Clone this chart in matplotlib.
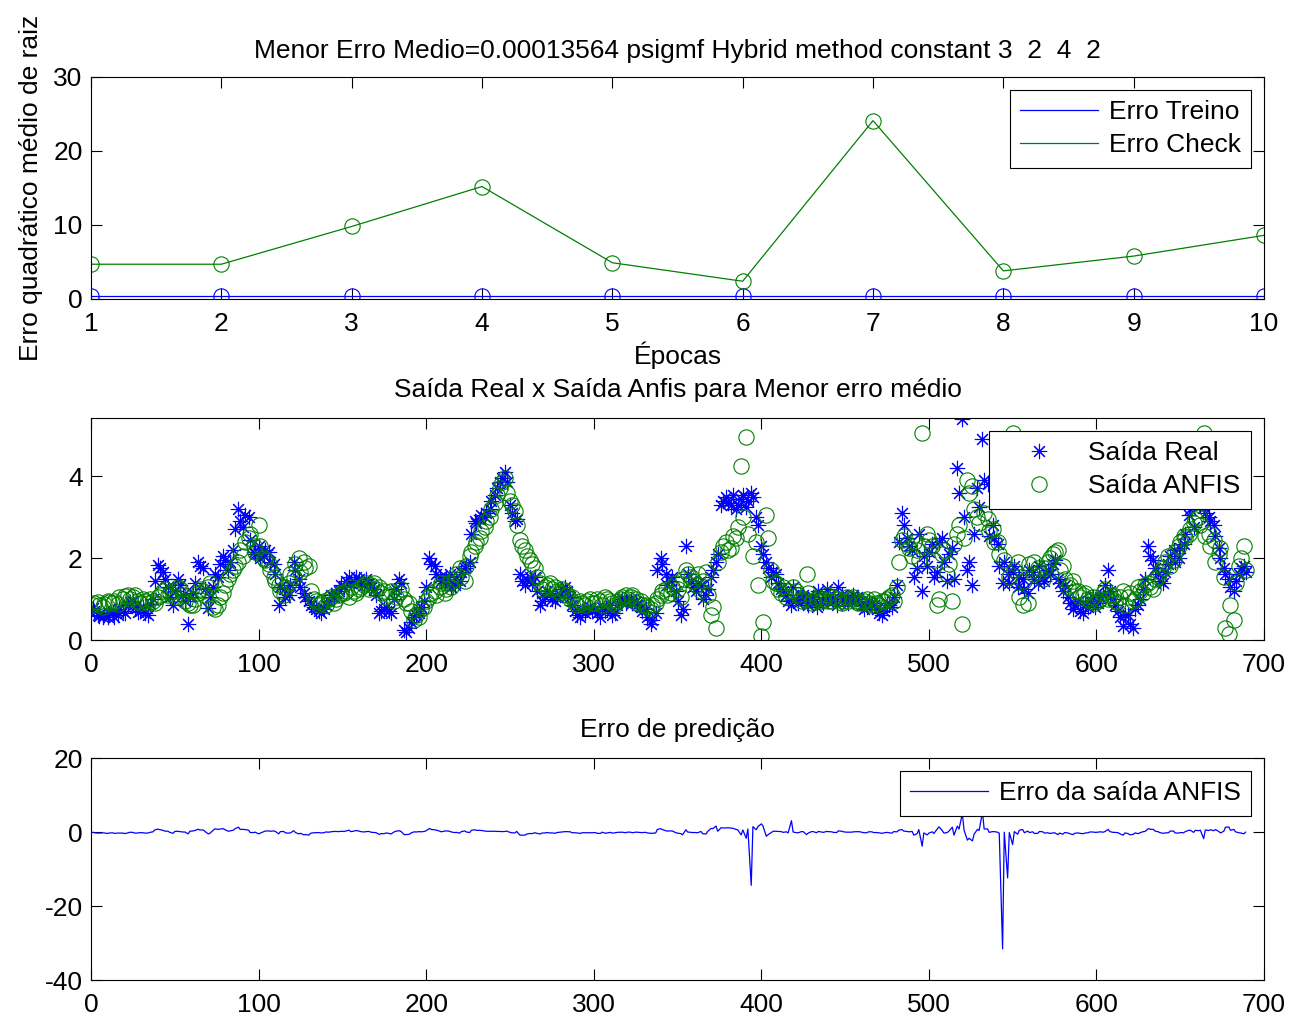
import numpy as np
import matplotlib.pyplot as plt
from matplotlib.lines import Line2D

plt.rcParams['font.family'] = ['Liberation Sans', 'DejaVu Sans']
plt.rcParams['font.size'] = 19
plt.rcParams['axes.unicode_minus'] = False

# ---- treino: erro por época ----
epocas = [1, 2, 3, 4, 5, 6, 7, 8, 9, 10]
erro_treino = [0.40, 0.40, 0.40, 0.40, 0.40, 0.40, 0.40, 0.40, 0.40, 0.40]
erro_check = [4.7, 4.7, 9.8, 15.2, 4.9, 2.4, 24.1, 3.8, 5.8, 8.6]

# ---- saída real e saída do ANFIS ----
# amostras 1, 4, 7, ...
saida_real_1 = [
    0.78, 0.62, 0.56, 0.55, 0.68, 0.60, 0.72, 0.85, 0.95, 0.68,
    0.80, 0.62, 1.00, 1.83, 1.65, 1.30, 0.85, 1.50, 1.10, 0.40,
    1.15, 1.90, 1.75, 0.78, 1.30, 1.55, 2.05, 1.70, 2.20, 3.20,
    2.75, 3.00, 2.15, 2.30, 2.05, 2.15, 1.85, 0.85, 1.25, 1.10,
    1.90, 1.50, 1.15, 0.95, 0.80, 0.70, 0.75, 0.95, 1.05, 1.20,
    1.30, 1.55, 1.45, 1.50, 1.35, 1.40, 1.25, 0.65, 0.75, 0.70,
    1.00, 1.50, 0.25, 0.30, 0.55, 0.65, 0.95, 2.00, 1.80, 1.55,
    1.40, 1.60, 1.35, 1.45, 1.75, 1.90, 2.90, 2.95, 3.00, 3.20,
    3.55, 3.85, 4.10, 3.30, 2.90, 1.60, 1.35, 1.55, 1.55, 0.85,
    1.05, 1.15, 0.95, 1.10, 1.30, 1.05, 0.70, 0.55, 0.65, 0.80,
    0.75, 0.55, 0.70, 0.85, 0.65, 0.95, 0.90, 1.00, 0.95, 0.80,
    0.75, 0.40, 0.65, 2.00, 1.60, 1.45, 1.20, 0.60, 2.30, 1.45,
    1.20, 1.35, 1.10, 1.55, 1.90, 3.30, 3.50, 3.30, 3.20, 3.45,
    3.25, 3.60, 3.00, 2.30, 1.90, 1.55, 1.60, 1.25, 1.10, 0.85,
    1.00, 1.05, 0.90, 1.00, 0.80, 0.95, 1.25, 1.00, 0.85, 1.10,
    1.00, 0.95, 1.05, 0.85, 0.80, 0.90, 0.75, 0.60, 0.90, 0.80,
    1.35, 3.10, 2.50, 2.20, 1.75, 1.20, 1.80, 2.35, 1.65, 2.50,
    1.45, 2.25, 4.20, 5.40, 1.70, 1.35, 3.70, 4.90, 3.80, 2.80,
    2.35, 1.40, 1.60, 1.65, 1.30, 1.50, 1.15, 1.65, 1.40, 1.55,
    1.70, 1.85, 1.50, 1.20, 1.05, 0.75, 0.95, 0.65, 0.80, 1.05,
    0.90, 1.10, 1.70, 1.00, 0.70, 0.35, 0.60, 0.30, 0.85, 1.25,
    2.30, 1.95, 1.60, 1.40, 1.85, 2.20, 2.00, 2.35, 3.05, 2.75,
    3.35, 3.25, 3.00, 2.80, 2.25, 1.75, 1.50, 1.20, 1.60, 1.80,
]
saida_anfis_1 = [
    0.85, 0.92, 0.80, 0.95, 0.90, 0.88, 1.00, 1.10, 1.05, 0.95,
    1.00, 0.90, 0.95, 1.05, 1.20, 1.10, 1.20, 1.30, 1.10, 0.90,
    0.85, 1.15, 1.20, 1.30, 0.80, 0.85, 1.15, 1.50, 1.70, 1.90,
    2.05, 2.50, 2.30, 2.80, 2.00, 1.85, 1.55, 1.35, 1.10, 1.40,
    1.55, 2.00, 1.90, 1.80, 1.00, 0.85, 0.95, 1.00, 0.90, 1.10,
    1.15, 1.05, 1.20, 1.25, 1.35, 1.25, 1.40, 1.30, 1.20, 1.10,
    0.95, 1.15, 1.00, 0.90, 0.50, 0.55, 0.80, 1.05, 1.20, 1.30,
    1.15, 1.40, 1.50, 1.75, 1.45, 2.05, 2.30, 2.50, 2.75, 3.00,
    3.35, 3.70, 3.95, 3.40, 3.15, 2.45, 2.20, 1.95, 1.75, 1.40,
    1.30, 1.40, 1.30, 1.15, 1.20, 1.00, 0.90, 0.95, 0.85, 1.00,
    0.90, 0.95, 1.05, 0.95, 0.85, 1.00, 1.10, 1.05, 1.00, 0.95,
    0.85, 0.75, 0.90, 1.10, 1.25, 1.15, 1.40, 1.05, 1.70, 1.55,
    1.35, 1.20, 1.65, 0.60, 0.30, 2.15, 2.40, 2.25, 2.50, 4.25,
    4.95, 18.0, 2.40, 0.10, 3.05, 1.70, 1.40, 1.15, 1.05, -2.20,
    1.20, 0.95, 1.60, 0.90, 1.00, 0.95, 1.10, 0.95, 1.00, 0.90,
    1.05, 1.00, 0.95, 0.90, 1.00, 0.85, 0.90, 0.95, 1.00, 1.10,
    1.30, 2.45, 2.35, 2.05, 2.20, 5.05, 2.60, 2.30, 0.85, 2.10,
    1.60, 0.95, 2.60, 0.40, 3.90, 3.75, 3.00, -0.50, 2.95, 2.70,
    2.40, 33.0, 14.0, 5.05, 1.90, 0.85, 0.90, 1.60, 1.75, 1.50,
    1.90, 2.10, 2.20, 1.80, 1.30, 1.45, 1.20, 1.10, 1.00, 1.05,
    0.95, 1.15, 1.00, 1.10, 0.90, 1.20, 1.05, 0.95, 1.30, 1.15,
    1.40, 1.25, 1.55, 1.75, 2.05, 1.95, 2.30, 2.55, 2.60, 2.85,
    3.00, 5.05, 2.60, 2.45, 2.10, 1.55, 0.15, 0.50, 1.80, 2.30,
]
# amostras 2, 5, 8, ...
saida_real_2 = [
    0.70, 0.58, 0.62, 0.66, 0.57, 0.75, 0.65, 0.92, 0.80, 0.72,
    0.66, 0.88, 1.45, 1.75, 1.50, 1.05, 1.20, 1.35, 0.95, 1.05,
    1.40, 1.80, 1.25, 1.05, 1.60, 1.85, 1.95, 1.90, 2.70, 2.90,
    3.05, 2.45, 2.10, 2.00, 2.20, 1.90, 1.60, 1.30, 1.05, 1.35,
    1.70, 1.30, 1.05, 0.85, 0.75, 0.65, 0.85, 1.10, 1.15, 1.35,
    1.45, 1.40, 1.55, 1.40, 1.50, 1.30, 1.10, 0.70, 0.80, 0.65,
    1.25, 1.40, 0.20, 0.45, 0.60, 0.80, 1.30, 1.85, 1.60, 1.45,
    1.55, 1.30, 1.50, 1.65, 1.80, 2.60, 2.85, 3.05, 3.10, 3.40,
    3.70, 3.95, 3.85, 3.10, 2.95, 1.45, 1.50, 1.40, 1.20, 0.95,
    1.20, 1.00, 1.05, 1.25, 1.20, 0.85, 0.60, 0.70, 0.75, 0.70,
    0.65, 0.80, 0.75, 0.60, 0.85, 1.00, 0.95, 0.90, 0.85, 0.70,
    0.55, 0.50, 1.70, 1.85, 1.35, 1.55, 0.95, 0.75, 1.60, 1.30,
    1.40, 1.00, 1.25, 1.70, 2.10, 3.40, 3.35, 3.55, 3.30, 3.55,
    3.40, 3.50, 2.80, 2.10, 1.75, 1.65, 1.40, 1.20, 0.95, 1.30,
    0.90, 1.10, 0.85, 1.05, 1.20, 0.90, 1.05, 0.95, 1.30, 1.00,
    0.90, 1.10, 1.00, 0.75, 0.95, 0.85, 0.65, 0.70, 0.85, 1.05,
    2.40, 2.80, 2.30, 1.55, 2.60, 2.05, 2.15, 1.55, 2.40, 1.90,
    2.10, 1.50, 3.60, 3.00, 1.90, 2.60, 3.25, 3.90, 2.55, 2.50,
    1.80, 1.90, 1.40, 1.80, 1.55, 1.25, 1.70, 1.50, 1.80, 1.45,
    1.60, 1.95, 1.40, 1.35, 0.90, 0.85, 0.70, 0.85, 0.95, 0.80,
    1.05, 1.35, 1.20, 0.85, 0.55, 0.60, 0.40, 0.75, 1.00, 1.50,
    2.05, 1.75, 1.45, 1.65, 2.05, 1.90, 2.25, 2.60, 3.20, 3.40,
    3.30, 3.10, 2.90, 2.55, 2.00, 1.60, 1.30, 1.45, 1.75, 1.65,
]
saida_anfis_2 = [
    0.90, 0.85, 0.88, 0.92, 0.95, 1.05, 1.08, 1.00, 1.10, 0.90,
    0.95, 1.00, 0.90, 1.10, 1.25, 1.15, 1.05, 1.25, 0.95, 0.85,
    1.00, 1.25, 1.10, 1.40, 0.75, 1.05, 1.35, 1.60, 1.80, 2.20,
    2.40, 2.60, 2.15, 2.30, 1.95, 1.70, 1.45, 1.20, 1.30, 1.60,
    1.85, 1.65, 1.75, 1.20, 0.95, 0.90, 0.85, 1.05, 1.00, 1.15,
    1.20, 1.30, 1.15, 1.30, 1.40, 1.35, 1.25, 1.15, 1.05, 1.20,
    1.05, 1.25, 0.90, 0.70, 0.60, 0.75, 0.95, 1.15, 1.10, 1.40,
    1.25, 1.30, 1.60, 1.55, 1.80, 2.15, 2.40, 2.65, 2.90, 3.20,
    3.55, 3.85, 3.60, 3.30, 2.80, 2.30, 2.05, 1.85, 1.55, 1.25,
    1.35, 1.25, 1.20, 1.25, 1.10, 1.05, 0.85, 0.90, 0.95, 0.90,
    1.00, 0.85, 1.00, 0.90, 0.95, 1.05, 1.00, 1.10, 0.90, 0.85,
    0.80, 0.85, 1.00, 1.20, 1.10, 1.30, 1.25, 1.50, 1.60, 1.45,
    1.60, 1.45, 1.10, 0.80, 1.90, 2.30, 2.20, 2.55, 2.75, 3.00,
    2.60, 2.05, 1.35, 0.45, 2.50, 1.45, 1.25, 1.30, 1.20, 1.30,
    1.10, 1.00, 1.15, 0.95, 1.05, 1.00, 0.95, 1.05, 1.00, 0.95,
    0.95, 1.05, 0.90, 0.95, 0.90, 1.00, 0.85, 0.95, 1.05, 0.95,
    1.90, 2.55, 2.25, 2.40, 1.95, 2.30, 2.45, 1.95, 1.00, 2.20,
    1.85, 2.35, 2.80, 2.50, 3.60, 3.20, 2.85, 3.10, 2.65, 2.40,
    2.10, 1.95, 1.55, 1.70, 1.05, 1.45, 1.85, 1.90, 1.65, 1.75,
    2.00, 2.15, 1.70, 1.50, 1.35, 1.20, 1.05, 1.15, 0.95, 0.90,
    1.00, 1.25, 1.10, 0.95, 1.05, 0.85, 1.15, 1.00, 1.20, 1.35,
    1.30, 1.50, 1.65, 1.90, 1.80, 2.15, 2.40, 2.50, 2.70, 2.95,
    2.80, 2.55, 2.30, 1.90, 2.25, 0.30, 0.85, 1.40, 2.00, 1.70,
]

# junta as duas séries de amostras em ordem
amostras = np.concatenate([1 + 3 * np.arange(len(saida_real_1)),
                           2 + 3 * np.arange(len(saida_real_2))])
ordem = np.argsort(amostras)
amostras = amostras[ordem]
saida_real = np.concatenate([saida_real_1, saida_real_2])[ordem]
saida_anfis = np.concatenate([saida_anfis_1, saida_anfis_2])[ordem]
erro_pred = saida_real - saida_anfis

AZUL = '#0000ff'
VERDE = '#008000'
ASTERISCO = (8, 2, 0)


def estilo_matlab(ax):
    for lado in ax.spines.values():
        lado.set_color('black')
        lado.set_linewidth(0.8)
    ax.tick_params(direction='in', top=True, right=True, length=8,
                   width=0.8, labelsize=19)
    ax.tick_params(axis='x', pad=9.5)
    ax.tick_params(axis='y', pad=6)


def legenda(ax, handles=None, labels=None):
    kw = dict(loc='upper right', bbox_to_anchor=(0.989, 0.942),
              borderaxespad=0, fancybox=False, framealpha=1,
              edgecolor='black', borderpad=0.4, handlelength=2.95,
              handletextpad=0.4, labelspacing=0.34, fontsize=19,
              numpoints=1)
    if handles is not None:
        leg = ax.legend(handles, labels, **kw)
    else:
        leg = ax.legend(**kw)
    leg.get_frame().set_linewidth(0.8)
    return leg


fig = plt.figure(figsize=(12.9, 10.16), dpi=100)
W, H = 1290, 1016


def eixo(x0, y0, x1, y1):
    return fig.add_axes([x0 / W, 1 - y1 / H, (x1 - x0) / W, (y1 - y0) / H])


# 1. Erro de treino e de checagem por época
ax1 = eixo(91, 77, 1264, 299)
ax1.plot(epocas, erro_treino, color=AZUL, lw=0.9, marker='o', ms=11,
         mfc='none', mew=0.8, label='Erro Treino')
ax1.plot(epocas, erro_check, color=VERDE, lw=0.9, marker='o', ms=11,
         mfc='none', mew=0.8, label='Erro Check')
ax1.set_xlim(1, 10)
ax1.set_ylim(0, 30)
ax1.set_xticks(epocas)
ax1.set_yticks([0, 10, 20, 30])
estilo_matlab(ax1)
ax1.set_title('Menor Erro Medio=0.00013564 psigmf Hybrid method constant 3  2  4  2',
              fontsize=19, pad=14)
ax1.set_xlabel('Épocas', fontsize=19, labelpad=4)
ax1.set_ylabel('Erro quadrático médio de raiz', fontsize=19)
ax1.yaxis.set_label_coords(-0.041, 0.5)
h_linha = [Line2D([], [], color=AZUL, lw=0.9), Line2D([], [], color=VERDE, lw=0.9)]
legenda(ax1, h_linha, ['Erro Treino', 'Erro Check'])

# 2. Saída real x saída do ANFIS
ax2 = eixo(91, 418, 1264, 640)
ax2.plot(amostras, saida_real, ls='none', marker=ASTERISCO, ms=11, mew=0.8,
         color=AZUL, label='Saída Real')
ax2.plot(amostras, saida_anfis, ls='none', marker='o', ms=11, mew=0.8,
         mfc='none', color=VERDE, label='Saída ANFIS')
ax2.set_xlim(0, 700)
ax2.set_ylim(0, 5.42)
ax2.set_xticks(range(0, 701, 100))
ax2.set_yticks([0, 2, 4])
estilo_matlab(ax2)
ax2.set_title('Saída Real x Saída Anfis para Menor erro médio', fontsize=19, pad=15)
legenda(ax2)

# 3. Erro de predição
ax3 = eixo(91, 758, 1264, 980)
ax3.plot(amostras, erro_pred, color=AZUL, lw=0.9, label='Erro da saída ANFIS')
ax3.set_xlim(0, 700)
ax3.set_ylim(-40, 20)
ax3.set_xticks(range(0, 701, 100))
ax3.set_yticks([-40, -20, 0, 20])
estilo_matlab(ax3)
ax3.set_title('Erro de predição', fontsize=19, pad=15)
legenda(ax3)

fig.savefig('out.png', dpi=100)
